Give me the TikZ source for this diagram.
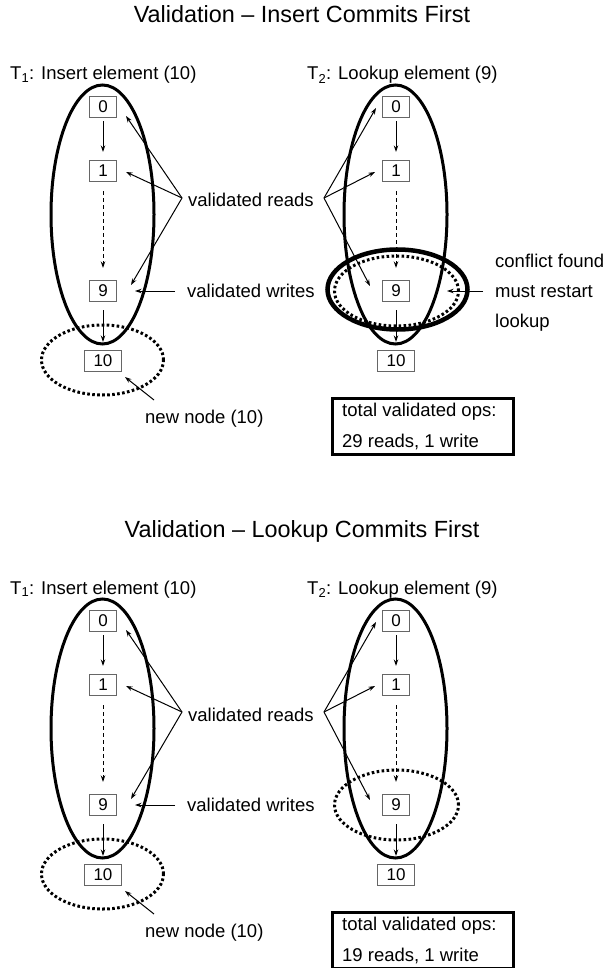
\documentclass[tikz,border=0pt]{standalone}
\usepackage{fontspec}
\setmainfont{Liberation Sans}
\usetikzlibrary{arrows.meta,calc}

\tikzset{
  cell/.style={draw=black!60, line width=1.1pt, minimum height=21pt,
    inner xsep=9pt, inner ysep=0pt, font=\fontsize{17}{19}\selectfont},
  lbl/.style={anchor=base west, inner sep=0pt, font=\fontsize{18.5}{22}\selectfont},
  ttl/.style={anchor=base, inner sep=0pt, font=\fontsize{23.4}{27}\selectfont},
  link/.style={line width=1pt, -{Stealth[length=6.5pt,width=4.5pt]}},
  dashlink/.style={dash pattern=on 4pt off 3pt},
  scopeline/.style={line width=3pt},
  dots/.style={line width=3pt, dash pattern=on 2.6pt off 2.4pt},
  conflict/.style={line width=4.5pt},
  tally/.style={draw, line width=3pt, minimum width=181pt, minimum height=56pt, inner sep=0pt}
}

% one list of four cells inside the operation scope of a transaction
\newcommand\chainof[2]{%
  \node[cell] (#1n0) at (#2,107) {0};
  \node[cell] (#1n1) at (#2,171) {1};
  \node[cell] (#1n9) at (#2,291) {9};
  \node[cell] (#1n10) at (#2,361) {10};
  \draw[link, shorten <=3pt, shorten >=8pt] (#1n0) -- (#1n1);
  \draw[link, dashlink, shorten <=9pt, shorten >=12pt] (#1n1) -- (#1n9);
  \draw[link, shorten <=8pt, shorten >=8pt] (#1n9) -- (#1n10);
  \draw[scopeline] (#2-0.5,214.5) ellipse [x radius=51.5pt, y radius=129.5pt];
}

% one validation scenario: #1 name prefix, #2 heading, #3 read count
\newcommand\panel[3]{%
  \node[ttl] (#1title) at (302,23) {#2};
  \node[lbl] (#1ins) at (10,80) {T\textsubscript{1}: Insert element (10)};
  \node[lbl] (#1look) at (307,80) {T\textsubscript{2}: Lookup element (9)};
  \chainof{#1L}{103}
  \chainof{#1R}{396}
  % freshly inserted node
  \draw[dots] (102.5,360) ellipse [x radius=61pt, y radius=35pt];
  \node[lbl] (#1new) at (145,423) {new node (10)};
  \coordinate (#1newtail) at (154,400);
  \coordinate (#1newtip) at (125,377);
  \draw[link] (#1newtail) -- (#1newtip);
  % reads checked at validation
  \node[lbl] (#1reads) at (188,207) {validated reads};
  \coordinate (#1fanL) at (182,198);
  \coordinate (#1fanR) at (324,198);
  \coordinate (#1tipL0) at (126,116);
  \coordinate (#1tipL1) at (126,172);
  \coordinate (#1tipL9) at (131,285);
  \coordinate (#1tipR0) at (376,108);
  \coordinate (#1tipR1) at (375,172);
  \coordinate (#1tipR9) at (370,286);
  \draw[link] (#1fanL) -- (#1tipL0);
  \draw[link] (#1fanL) -- (#1tipL1);
  \draw[link] (#1fanL) -- (#1tipL9);
  \draw[link] (#1fanR) -- (#1tipR0);
  \draw[link] (#1fanR) -- (#1tipR1);
  \draw[link] (#1fanR) -- (#1tipR9);
  % writes checked at validation
  \node[lbl] (#1writes) at (187,297) {validated writes};
  \coordinate (#1wtail) at (175,291);
  \coordinate (#1wtip) at (135,291);
  \draw[link] (#1wtail) -- (#1wtip);
  % read of node 9 by the lookup
  \draw[dots] (396.5,291) ellipse [x radius=62pt, y radius=35pt];
  % operation count
  \node[tally] (#1tot) at (422.5,426) {};
  \node[lbl] (#1totA) at (342,416) {total validated ops:};
  \node[lbl] (#1totB) at (342,447) {#3 reads, 1 write};
}

\begin{document}
\begin{tikzpicture}[x=1pt, y=-1pt]
  \useasboundingbox (0,0) rectangle (604,968);

  % insert transaction commits first
  \panel{up}{Validation – Insert Commits First}{29}
  \draw[conflict] (397.5,289.5) ellipse [x radius=70pt, y radius=40pt];
  \node[lbl] (upconf) at (495,267) {conflict found};
  \node[lbl] (uprestart) at (495,297) {must restart};
  \node[lbl] (uplookup) at (495,327) {lookup};
  \coordinate (upctail) at (483,291);
  \coordinate (upctip) at (447,291);
  \draw[link] (upctail) -- (upctip);

  % lookup transaction commits first
  \begin{scope}[yshift=-514pt]
    \panel{lo}{Validation – Lookup Commits First}{19}
  \end{scope}
\end{tikzpicture}
\end{document}
